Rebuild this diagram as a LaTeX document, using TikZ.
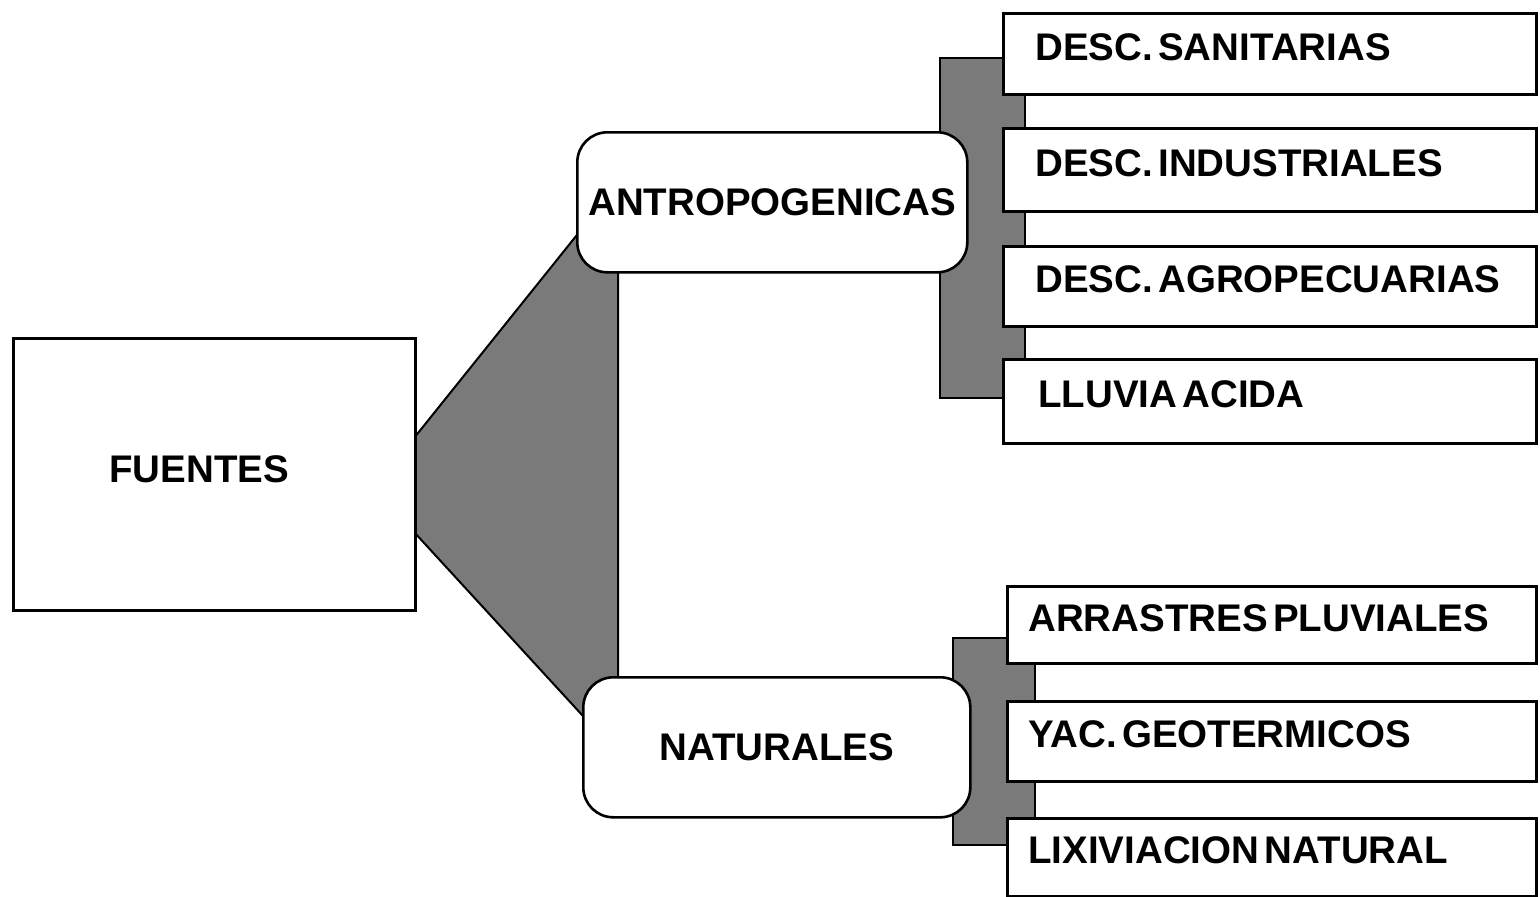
\documentclass[tikz,border=0pt]{standalone}
\usepackage{fontspec}
\setmainfont{Liberation Sans}
\newcommand\lblfont{\bfseries\fontsize{38.5}{42}\selectfont}
% narrow word gap used inside the labels
\newcommand\wgap{\hspace{0.14em}}
\begin{document}
\begin{tikzpicture}[x=1pt,y=-1pt,
  lbl/.style={font=\lblfont, inner sep=0pt},
  frame/.style={draw=black, line width=2.6pt, fill=white, inner sep=0pt, anchor=north west},
  srcbox/.style={frame, minimum width=402pt, minimum height=272pt},
  hubbox/.style={frame, lbl, rounded corners=30pt, minimum width=#1, minimum height=140pt},
  leafbox/.style n args={3}{frame, lbl, minimum height=#2, text width=#1-2*#3, inner xsep=#3,
    align=left, text height=27pt, text depth=14pt},
  band/.style={draw=black, line width=2pt, fill=black!52, line join=miter}]
\useasboundingbox (0,0) rectangle (1540,897);

% shaded bands drawn first, boxes are laid over them
\coordinate (apexTop) at (414,438);
\coordinate (apexBot) at (414,532);
\coordinate (bendTop) at (605,200);
\coordinate (bendBot) at (605,740);
\path[band] (apexTop) -- (bendTop) -- (618,200) -- (618,740) -- (bendBot) -- (apexBot) -- cycle;
\path[band] (940,58) rectangle (1025,398);
\path[band] (953,638) rectangle (1035,845);

% source box
\node[srcbox] (fuentes) at (12,337) {};
\node[lbl] (fuenteslbl) at ([xshift=-15pt,yshift=5pt]fuentes.center) {FUENTES};

% the two groups
\node[hubbox=390pt] (antro) at (576,131) {ANTROPOGENICAS};
\node[hubbox=387pt] (natur) at (582,676) {\raisebox{-4pt}{NATURALES}};

% anthropogenic sources
\node[leafbox={533pt}{81pt}{32pt}] (sanit) at (1002,12) {\mbox{DESC.\wgap SANITARIAS}};
\node[leafbox={533pt}{83pt}{32pt}] (indus) at (1002,127) {\mbox{DESC.\wgap INDUSTRIALES}};
\node[leafbox={533pt}{80pt}{32pt}] (agro) at (1002,245) {\mbox{DESC.\wgap AGROPECUARIAS}};
\node[leafbox={533pt}{84pt}{35pt}] (lluvia) at (1002,358) {\mbox{LLUVIA\wgap ACIDA}};

% natural sources
\node[leafbox={529pt}{77pt}{21pt}] (arrastre) at (1006,585) {\mbox{ARRASTRES\wgap PLUVIALES}};
\node[leafbox={529pt}{80pt}{21pt}] (yac) at (1006,700) {\mbox{YAC.\wgap GEOTERMICOS}};
\node[leafbox={529pt}{78pt}{21pt}] (lixiv) at (1006,817) {\mbox{LIXIVIACION\wgap NATURAL}};
\end{tikzpicture}
\end{document}
